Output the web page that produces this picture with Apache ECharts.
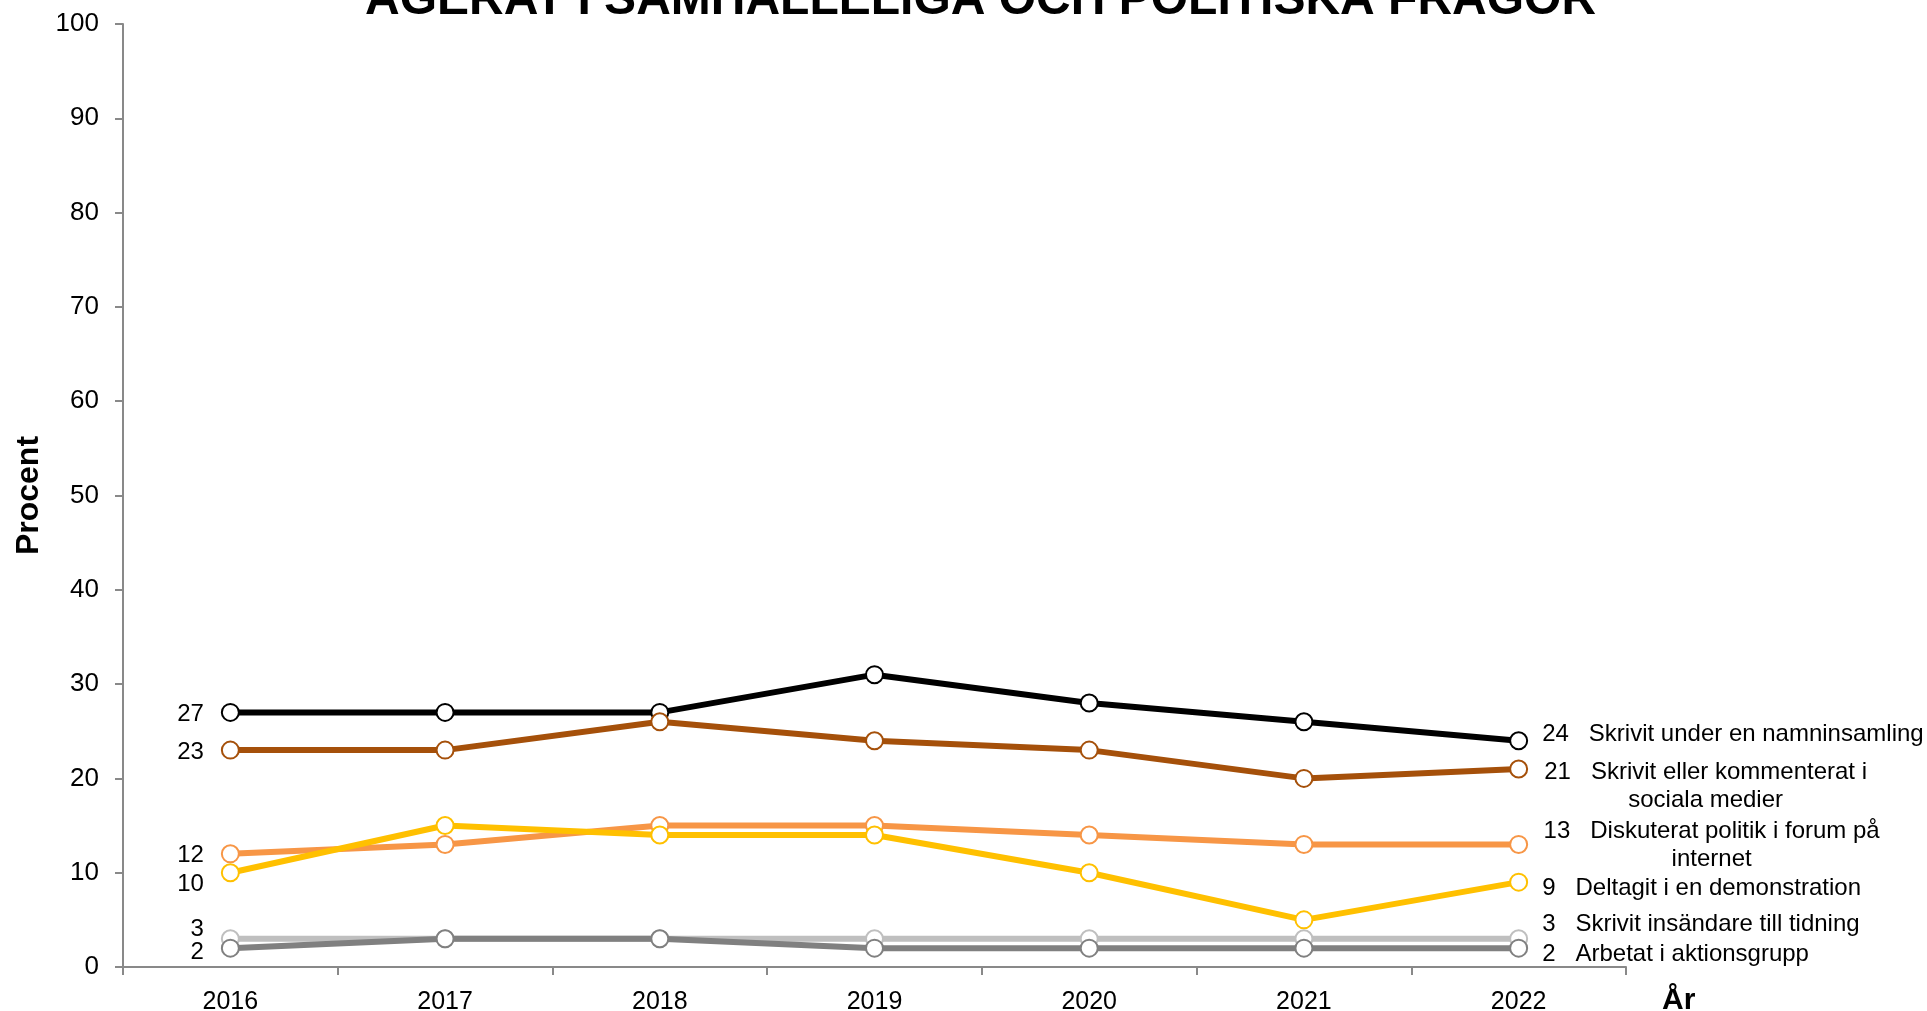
<!DOCTYPE html>
<html>
<head>
<meta charset="utf-8">
<script src="https://cdn.jsdelivr.net/npm/echarts@6/dist/echarts.min.js"></script>
<style>
  html, body { margin: 0; padding: 0; background: #fff; }
  #chart { width: 1927px; height: 1011px; }
</style>
</head>
<body>
<div id="chart"></div>
<script>
const years = ['2016', '2017', '2018', '2019', '2020', '2021', '2022'];

const namninsamling = [27, 27, 27, 31, 28, 26, 24];
const socialaMedier = [23, 23, 26, 24, 23, 20, 21];
const forumInternet = [12, 13, 15, 15, 14, 13, 13];
const demonstration = [10, 15, 14, 14, 10, 5, 9];
const insandare = [3, 3, 3, 3, 3, 3, 3];
const aktionsgrupp = [2, 3, 3, 2, 2, 2, 2];

const seriesNames = [
  'Skrivit under en namninsamling',
  'Skrivit eller kommenterat i\nsociala medier',
  'Diskuterat politik i forum på\ninternet',
  'Deltagit i en demonstration',
  'Skrivit insändare till tidning',
  'Arbetat i aktionsgrupp'
];

const FONT = 'Liberation Sans, Arial, sans-serif';

// per-series look + where the first/last value labels sit
const seriesDefs = [
  { data: namninsamling, color: '#000000', startDy: 2,
    end: { position: 'right', distance: 14, offset: [0, -6] } },
  { data: socialaMedier, color: '#A5500A', startDy: 2,
    end: { position: 'inside', align: 'center', offset: [187, 17] } },
  { data: forumInternet, color: '#F79646', startDy: 2,
    end: { position: 'inside', align: 'center', offset: [193, 1] } },
  { data: demonstration, color: '#FFC000', startDy: 12,
    end: { position: 'right', distance: 14, offset: [0, 6] } },
  { data: insandare, color: '#BFBFBF', startDy: -9,
    end: { position: 'right', distance: 14, offset: [0, -14] } },
  { data: aktionsgrupp, color: '#808080', startDy: 4,
    end: { position: 'right', distance: 14, offset: [0, 6] } }
];

const chart = echarts.init(document.getElementById('chart'));

const series = seriesDefs.map((def, si) => {
  const last = def.data.length - 1;
  return {
    name: seriesNames[si].replace('\n', ' '),
    type: 'line',
    z: 2 + si,
    symbol: 'circle',
    symbolSize: 17,
    lineStyle: { color: def.color, width: 6 },
    itemStyle: { color: '#fff', borderColor: def.color, borderWidth: 2 },
    emphasis: { disabled: true },
    label: { show: false },
    data: def.data.map((v, i) => {
      if (i === 0) {
        return {
          value: v,
          label: {
            show: true, position: 'left', distance: 17, offset: [0, def.startDy],
            color: '#000', fontSize: 24, fontFamily: FONT, formatter: '{c}'
          }
        };
      }
      if (i === last) {
        return {
          value: v,
          label: Object.assign({
            show: true, color: '#000', fontSize: 24, fontFamily: FONT,
            lineHeight: 28, verticalAlign: 'middle',
            formatter: v + '   ' + seriesNames[si]
          }, def.end)
        };
      }
      return v;
    })
  };
});

const option = {
  animation: false,
  title: {
    text: 'AGERAT I SAMHÄLLELIGA OCH POLITISKA FRÅGOR',
    left: 360,
    top: -28,
    textStyle: { fontSize: 48, fontWeight: 'bold', color: '#000', fontFamily: FONT }
  },
  grid: { left: 123, right: 301, top: 24, bottom: 44, outerBoundsMode: 'none', containLabel: false },
  xAxis: {
    type: 'category',
    data: years,
    boundaryGap: true,
    name: 'År',
    nameLocation: 'end',
    nameGap: 36,
    nameTextStyle: {
      fontSize: 30, fontWeight: 'bold', color: '#000', fontFamily: FONT,
      verticalAlign: 'top', padding: [19, 0, 0, 0]
    },
    axisLine: { lineStyle: { color: '#898989', width: 2 } },
    axisTick: { show: true, interval: 0, length: 8, lineStyle: { color: '#898989', width: 2 } },
    axisLabel: { color: '#000', fontSize: 25, fontFamily: FONT, margin: 23 }
  },
  yAxis: {
    type: 'value',
    min: 0,
    max: 100,
    interval: 10,
    name: 'Procent',
    nameLocation: 'middle',
    nameGap: 77,
    nameTextStyle: { fontSize: 32, fontWeight: 'bold', color: '#000', fontFamily: FONT },
    axisLine: { show: true, lineStyle: { color: '#898989', width: 2 } },
    axisTick: { show: true, length: 8, lineStyle: { color: '#898989', width: 2 } },
    axisLabel: { color: '#000', fontSize: 26, fontFamily: FONT, margin: 24 },
    splitLine: { show: false }
  },
  series: series
};

chart.setOption(option);
</script>
</body>
</html>
